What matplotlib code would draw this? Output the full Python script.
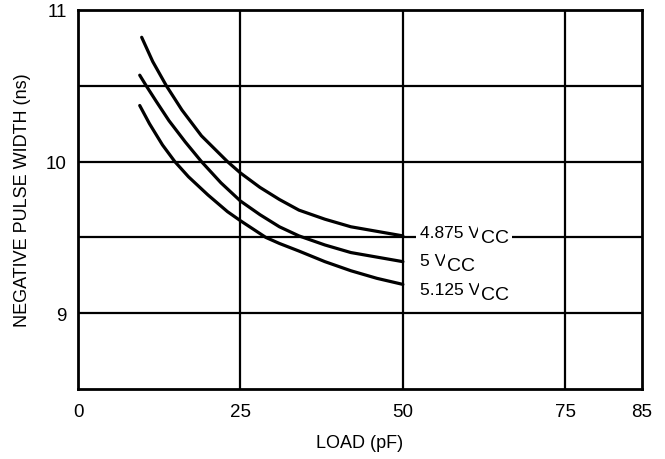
import matplotlib
matplotlib.use("Agg")
import matplotlib.pyplot as plt
from matplotlib.transforms import offset_copy

plt.rcParams['font.family'] = ['Liberation Sans', 'DejaVu Sans']

# data
load_hi = [9.8, 11.5, 13.6, 16, 19, 23, 25, 28, 31, 34, 38, 42, 46, 50]
vcc_4875 = [10.82, 10.66, 10.50, 10.34, 10.17, 10.00, 9.925, 9.83, 9.75, 9.68, 9.62, 9.57, 9.54, 9.51]

load_mid = [9.5, 10.5, 12, 14, 16.5, 19, 22, 25, 28, 31, 34, 38, 42, 46, 50]
vcc_5 = [10.57, 10.50, 10.40, 10.27, 10.13, 10.00, 9.86, 9.74, 9.65, 9.57, 9.51, 9.45, 9.40, 9.37, 9.34]

load_lo = [9.5, 11, 13, 14.9, 17, 20, 23, 25, 28.9, 31, 34, 38, 42, 46, 50]
vcc_5125 = [10.37, 10.25, 10.11, 10.00, 9.90, 9.78, 9.67, 9.61, 9.50, 9.46, 9.41, 9.34, 9.28, 9.23, 9.19]

x_ticks = [0, 25, 50, 75, 86.8]
x_ticklabels = ['0', '25', '50', '75', '85']
y_ticks = [9, 10, 11]
y_grid = [9, 9.5, 10, 10.5]
x_grid = [25, 50, 75]

labels = [('4.875 V', 9.53), ('5 V', 9.35), ('5.125 V', 9.155)]

fig = plt.figure(figsize=(6.65, 4.6), dpi=100)
ax = fig.add_axes([78/665, 1 - 390/460, (642 - 78)/665, (390 - 11)/460])

for yg in y_grid:
    ax.axhline(yg, color='black', lw=1.6, zorder=1)
for xg in x_grid:
    ax.axvline(xg, color='black', lw=1.6, zorder=1)

ax.plot(load_hi, vcc_4875, color='black', lw=2.3, solid_capstyle='round', zorder=3)
ax.plot(load_mid, vcc_5, color='black', lw=2.3, solid_capstyle='round', zorder=3)
ax.plot(load_lo, vcc_5125, color='black', lw=2.3, solid_capstyle='round', zorder=3)

ax.set_xlim(0, 86.8)
ax.set_ylim(8.5, 11)
ax.set_xticks(x_ticks)
ax.set_xticklabels(x_ticklabels)
ax.set_yticks(y_ticks)
ax.tick_params(length=0, labelsize=13.5)
ax.tick_params(axis='x', pad=10)
ax.tick_params(axis='y', pad=8)
for s in ax.spines.values():
    s.set_linewidth(2)

ax.set_xlabel('LOAD (pF)', fontsize=13, labelpad=10)
ax.set_ylabel('NEGATIVE PULSE WIDTH (ns)', fontsize=13, labelpad=11)

fig.canvas.draw()
renderer = fig.canvas.get_renderer()
for txt, yv in labels:
    t = ax.text(52.7, yv, txt, fontsize=12.5, va='center', ha='left', zorder=4,
                bbox=dict(facecolor='white', edgecolor='none', pad=3))
    w = t.get_window_extent(renderer).width
    trans = offset_copy(ax.transData, fig=fig, x=w / 100 * 72 + 0.5, y=-3.5, units='points')
    ax.text(52.7, yv, 'CC', fontsize=14, va='center', ha='left', zorder=4,
            transform=trans, bbox=dict(facecolor='white', edgecolor='none', pad=2))

fig.savefig('out.png', dpi=100)
